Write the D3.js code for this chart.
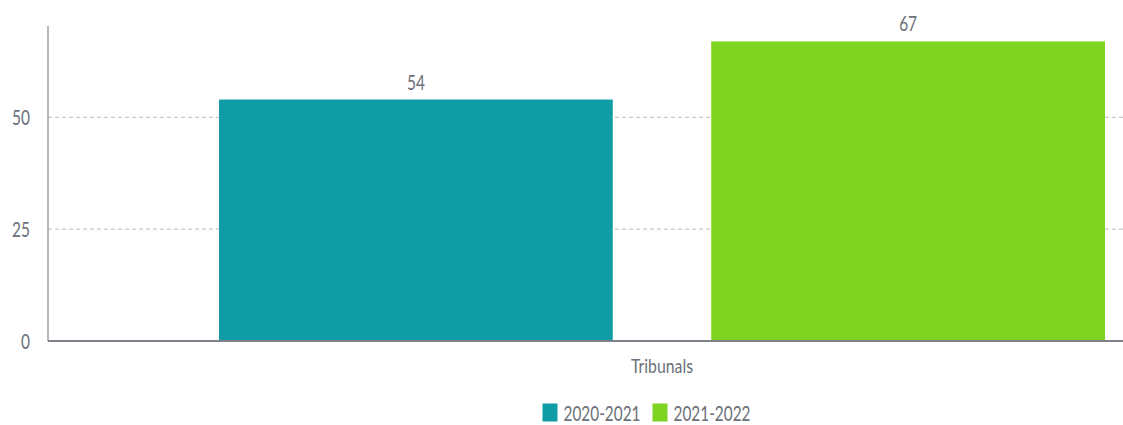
<!DOCTYPE html>
<html>
<head>
<meta charset="utf-8">
<script src="https://cdn.jsdelivr.net/npm/d3@7"></script>
<style>
  html, body { margin: 0; padding: 0; background: #fff; }
  svg { display: block; }
  text { font-family: Lato, "Open Sans", sans-serif; fill: #6b7079; }
</style>
</head>
<body>
<svg id="chart" width="1123" height="425"></svg>
<script>
// Data
const categories = ["Tribunals"];
const seriesNames = ["2020-2021", "2021-2022"];
const values2020_2021 = [54];
const values2021_2022 = [67];
const seriesColors = ["#109ca4", "#7ed421"];
const yTicks = [0, 25, 50];

const seriesValues = [values2020_2021, values2021_2022];

const W = 1123, H = 425;
const margin = { top: 28, left: 48, bottom: 84 };
const plotBottom = H - margin.bottom;   // 341
const plotRightExtent = 1276;           // plot continues past the visible edge

const svg = d3.select("#chart");

const y = d3.scaleLinear().domain([0, 70]).range([plotBottom, margin.top]);
const x0 = d3.scaleBand().domain(categories)
  .range([margin.left, plotRightExtent])
  .paddingInner(0).paddingOuter(0.193);
const x1 = d3.scaleBand().domain(seriesNames)
  .range([0, x0.bandwidth()])
  .paddingInner(0.2).paddingOuter(0);

// condensed text helper: horizontal squeeze around the anchor point
function place(sel, px, py, sx) {
  return sel.attr("transform", `translate(${px},${py}) scale(${sx},1)`);
}

// gridlines
svg.append("g").selectAll("line")
  .data(yTicks.filter(d => d > 0))
  .join("line")
  .attr("x1", margin.left).attr("x2", W)
  .attr("y1", d => y(d)).attr("y2", d => y(d))
  .attr("stroke", "#c9c9c9").attr("stroke-width", 1.3)
  .attr("stroke-dasharray", "4,3");

// bars
const groups = svg.append("g").selectAll("g")
  .data(categories)
  .join("g")
  .attr("transform", d => `translate(${x0(d)},0)`);

groups.each(function (cat, ci) {
  const g = d3.select(this);
  const rows = seriesNames.map((s, si) => ({ s, si, v: seriesValues[si][ci] }));
  g.selectAll("rect").data(rows).join("rect")
    .attr("x", d => x1(d.s))
    .attr("width", x1.bandwidth())
    .attr("y", d => y(d.v))
    .attr("height", d => y(0) - y(d.v))
    .attr("fill", d => seriesColors[d.si]);
  g.selectAll("text.val").data(rows).join("text")
    .attr("class", "val")
    .attr("text-anchor", "middle")
    .attr("font-size", 21.5)
    .text(d => d.v)
    .each(function (d) {
      place(d3.select(this), x1(d.s) + x1.bandwidth() / 2, y(d.v) - 10, 0.72);
    });
});

// y axis
const yAxis = svg.append("g")
  .attr("transform", `translate(${margin.left},0)`)
  .call(d3.axisLeft(y).tickValues(yTicks).tickSize(0).tickPadding(0).tickFormat(d3.format("d")));
yAxis.select(".domain").remove();
yAxis.selectAll("text")
  .attr("x", null).attr("dy", null)
  .attr("font-size", 21.5)
  .attr("font-family", "Lato, sans-serif")
  .attr("fill", "#6b7079")
  .attr("text-anchor", "end")
  .each(function (d) {
    place(d3.select(this), -18, 7.5, 0.72);
  });
svg.append("line")
  .attr("x1", margin.left).attr("x2", margin.left)
  .attr("y1", margin.top - 2).attr("y2", plotBottom)
  .attr("stroke", "#8d929a").attr("stroke-width", 1.3);

// baseline
svg.append("line")
  .attr("x1", margin.left).attr("x2", W)
  .attr("y1", plotBottom).attr("y2", plotBottom)
  .attr("stroke", "#7c818a").attr("stroke-width", 2);

// category label
svg.append("g").selectAll("text")
  .data(categories)
  .join("text")
  .attr("text-anchor", "middle")
  .attr("font-size", 18.6)
  .text(d => d)
  .each(function (d) {
    place(d3.select(this), x0(d) + x0.bandwidth() / 2, 373, 0.85);
  });

// legend
const legend = svg.append("g");
const sw = 15, sh = 18, gapText = 6, gapItem = 12;
let cursor = 0;
seriesNames.forEach((s, i) => {
  const g = legend.append("g");
  g.append("rect").attr("width", sw).attr("height", sh).attr("y", -sh + 1)
    .attr("fill", seriesColors[i]);
  const t = g.append("text").attr("font-size", 20.5).text(s);
  place(t, sw + gapText, 0, 0.75);
  const w = sw + gapText + t.node().getComputedTextLength() * 0.75;
  g.attr("transform", `translate(${cursor},0)`);
  cursor += w + gapItem;
});
const legendWidth = cursor - gapItem;
legend.attr("transform", `translate(${646.5 - legendWidth / 2},420.5)`);
</script>
</body>
</html>
